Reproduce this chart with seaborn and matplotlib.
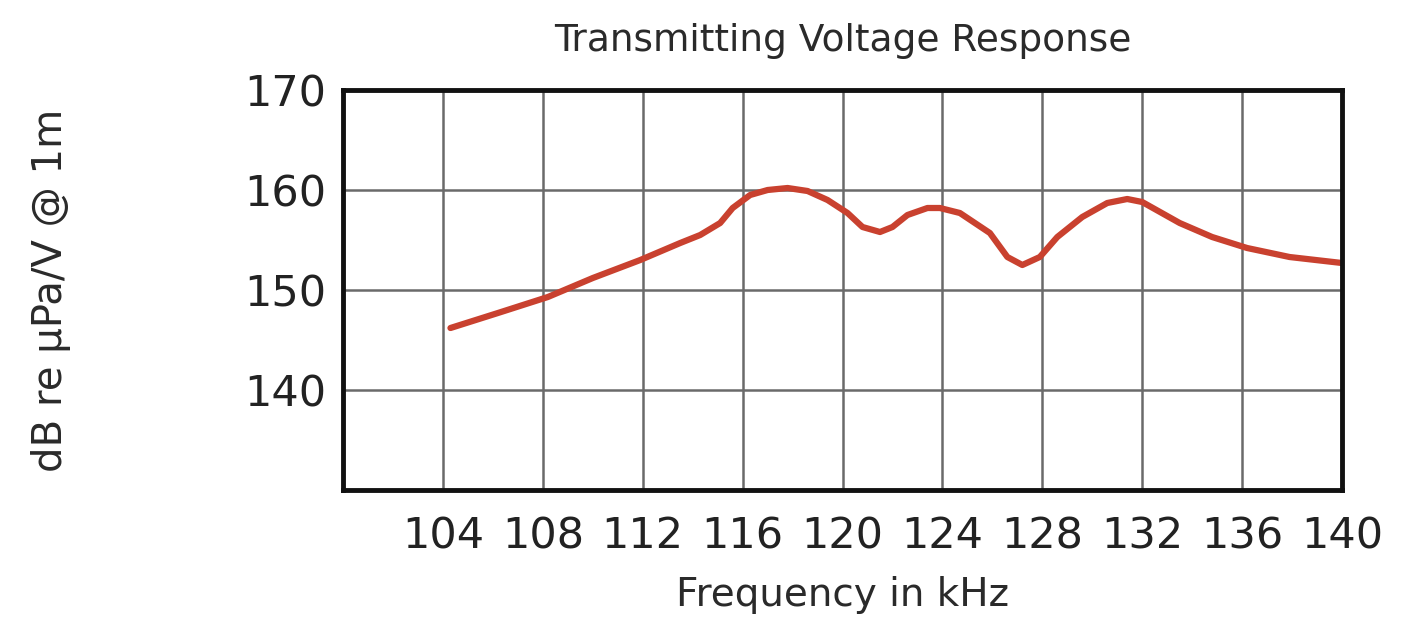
import matplotlib
matplotlib.use("Agg")
import matplotlib.pyplot as plt
import seaborn as sns
import pandas as pd

# valores
freq_khz = [104.3, 106.2, 108.2, 110.0, 111.9, 113.5, 114.3, 115.1, 115.6, 116.3,
            117.0, 117.8, 118.6, 119.4, 120.2, 120.8, 121.5, 122.0, 122.6, 123.4,
            123.9, 124.7, 125.9, 126.6, 127.2, 127.9, 128.6, 129.6, 130.6, 131.4,
            132.0, 133.5, 134.8, 136.2, 137.9, 140.0]
tvr_db = [146.2, 147.7, 149.3, 151.2, 153.0, 154.7, 155.5, 156.7, 158.2, 159.5,
          160.0, 160.2, 159.9, 159.0, 157.7, 156.3, 155.8, 156.3, 157.5, 158.2,
          158.2, 157.7, 155.7, 153.3, 152.5, 153.3, 155.3, 157.3, 158.7, 159.1,
          158.8, 156.7, 155.3, 154.2, 153.3, 152.7]

xticks = [104, 108, 112, 116, 120, 124, 128, 132, 136, 140]
yticks = [140, 150, 160, 170]

df = pd.DataFrame({"freq": freq_khz, "db": tvr_db})

sns.set_style("white")
plt.rcParams['font.family'] = ['DejaVu Sans']

fig = plt.figure(figsize=(14.02, 6.22), dpi=100)
ax = fig.add_axes([0.2447, 0.2122, 0.7125, 0.6431])

sns.lineplot(data=df, x="freq", y="db", ax=ax, color="#c9412f", linewidth=4.5)
ax.lines[0].set_solid_joinstyle("round")

ax.set_xlim(100, 140)
ax.set_ylim(130, 170)
ax.set_xticks([100] + xticks)
ax.set_xticklabels([""] + [str(t) for t in xticks])
ax.set_yticks([130] + yticks)
ax.set_yticklabels([""] + [str(t) for t in yticks])
ax.grid(True, color="#6a6a6a", linewidth=1.8)
ax.tick_params(axis="both", length=0, labelsize=31, colors="#222222")
ax.tick_params(axis="x", pad=18)
ax.tick_params(axis="y", pad=12)
for s in ax.spines.values():
    s.set_visible(True)
    s.set_color("#111111")
    s.set_linewidth(3.5)

ax.set_title("Transmitting Voltage Response", fontsize=27, color="#2a2a2a", pad=28)
ax.set_xlabel("Frequency in kHz", fontsize=28, color="#2a2a2a", labelpad=14)
ax.set_ylabel("dB re µPa/V @ 1m", fontsize=29, color="#2a2a2a", labelpad=0)
ax.yaxis.set_label_coords(-0.272, 0.5)

fig.savefig("out.png", dpi=100)
